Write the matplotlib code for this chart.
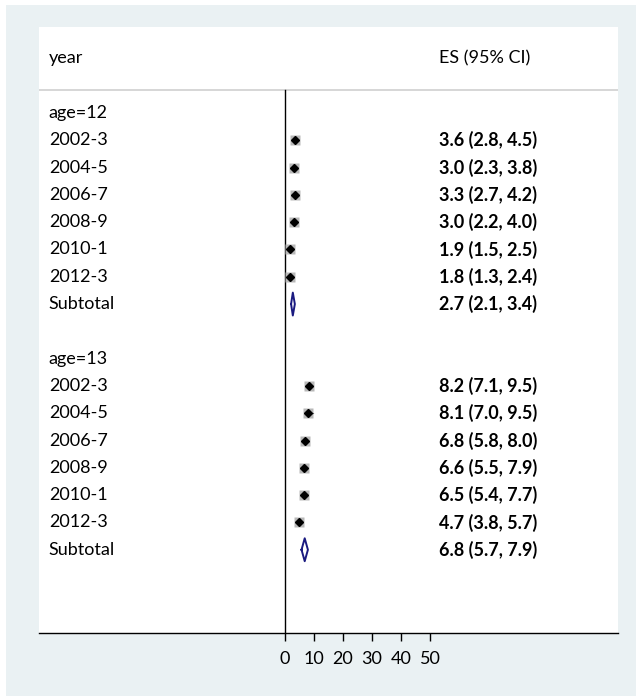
import matplotlib.pyplot as plt
from matplotlib.patches import Rectangle

plt.rcParams['font.family'] = ['Lato', 'DejaVu Sans']

# Data
groups = ["age=12", "age=13"]
years = ["2002-3", "2004-5", "2006-7", "2008-9", "2010-1", "2012-3"]
es_12 = [3.6, 3.0, 3.3, 3.0, 1.9, 1.8]
lo_12 = [2.8, 2.3, 2.7, 2.2, 1.5, 1.3]
hi_12 = [4.5, 3.8, 4.2, 4.0, 2.5, 2.4]
es_13 = [8.2, 8.1, 6.8, 6.6, 6.5, 4.7]
lo_13 = [7.1, 7.0, 5.8, 5.5, 5.4, 3.8]
hi_13 = [9.5, 9.5, 8.0, 7.9, 7.7, 5.7]
sub_es = [2.7, 6.8]
sub_lo = [2.1, 5.7]
sub_hi = [3.4, 7.9]
xticks = [0, 10, 20, 30, 40, 50]

W, H = 636, 696
bg = "#eaf1f3"
fig = plt.figure(figsize=(W / 100, H / 100), dpi=100, facecolor="white")
fig.patches.append(Rectangle((6 / W, 0), 1, (H - 5) / H, transform=fig.transFigure,
                             facecolor=bg, edgecolor="none", zorder=-10))
ax = fig.add_axes([39 / W, (H - 633) / H, 579 / W, 606 / H])
ax.set_facecolor("white")
ax.set_xlim(-84.8, 114.8)
ax.set_ylim(19.05, -3.15)

fs = 13
trans = ax.get_yaxis_transform()
xl, xr = 0.017, 0.691
ax.text(xl, -2.01, "year", transform=trans, fontsize=fs, va="center")
ax.text(xr, -2.01, "ES (95% CI)", transform=trans, fontsize=fs, va="center")
ax.axhline(-0.84, color="#cfcfcf", lw=1.2)
ax.plot([0, 0], [-0.84, 19.05], color="black", lw=1)

data = [(es_12, lo_12, hi_12), (es_13, lo_13, hi_13)]
row = 0
for g, (es, lo, hi) in enumerate(data):
    ax.text(xl, row, groups[g], transform=trans, fontsize=fs, va="center")
    row += 1
    for k in range(len(years)):
        ax.text(xl, row, years[k], transform=trans, fontsize=fs, va="center")
        ax.plot([lo[k], hi[k]], [row, row], color="black", lw=0.8)
        ax.plot(es[k], row, marker="s", ms=6.5, color="#b8b8b8", mec="none")
        ax.plot(es[k], row, marker="D", ms=3.6, color="black")
        ax.text(xr, row, f"{es[k]:.1f} ({lo[k]:.1f}, {hi[k]:.1f})",
                transform=trans, fontsize=fs, va="center", fontweight="bold")
        row += 1
    ax.text(xl, row, "Subtotal", transform=trans, fontsize=fs, va="center")
    dx = [sub_lo[g], sub_es[g], sub_hi[g], sub_es[g], sub_lo[g]]
    dy = [row, row - 0.42, row, row + 0.42, row]
    ax.plot(dx, dy, color="#1a1a80", lw=1.4)
    ax.text(xr, row, f"{sub_es[g]:.1f} ({sub_lo[g]:.1f}, {sub_hi[g]:.1f})",
            transform=trans, fontsize=fs, va="center", fontweight="bold")
    row += 2

for s in ["top", "left", "right"]:
    ax.spines[s].set_visible(False)
ax.spines["bottom"].set_linewidth(1)
ax.set_xticks(xticks)
ax.set_xticklabels([str(t) for t in xticks], fontsize=fs)
ax.tick_params(axis="x", length=6, width=1, pad=7)
ax.set_yticks([])

fig.savefig("out.png", dpi=100, facecolor="white")
